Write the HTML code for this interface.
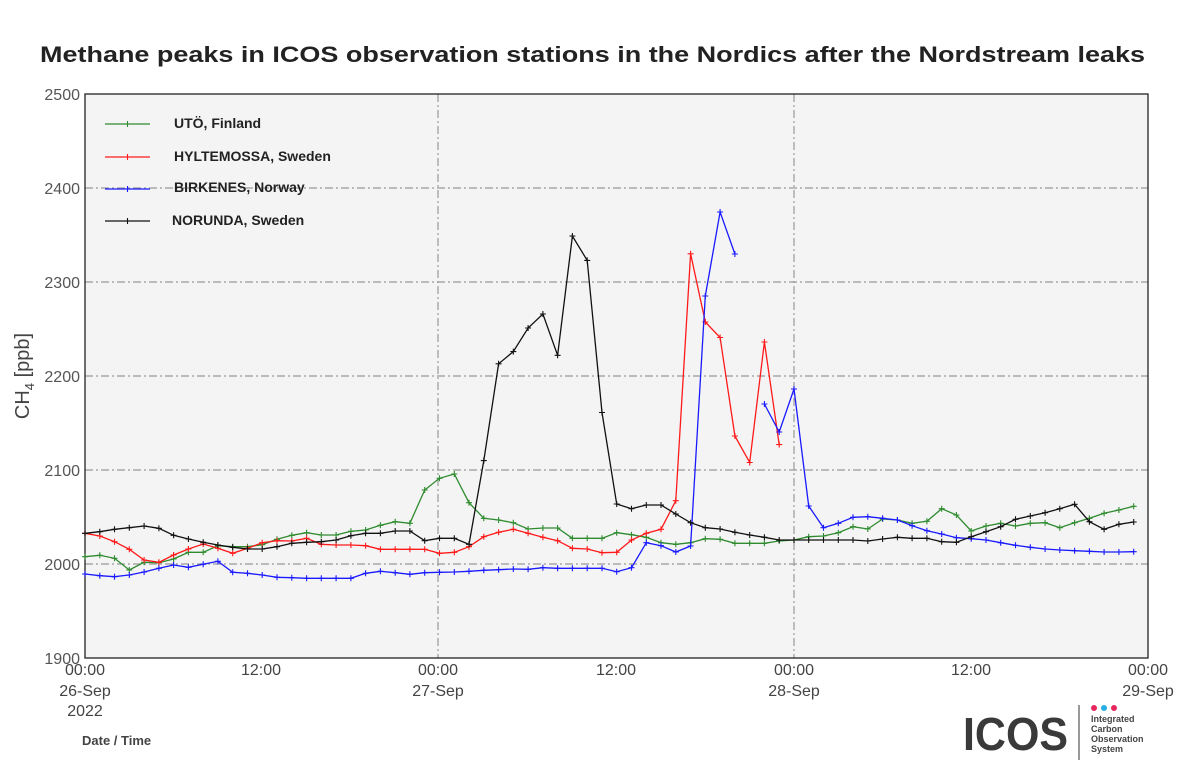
<!DOCTYPE html>
<html><head><meta charset="utf-8"><style>
body{margin:0;background:#fff;}
svg{display:block;font-family:"Liberation Sans",sans-serif;}
</style></head><body>
<svg width="1200" height="776" viewBox="0 0 1200 776" xmlns="http://www.w3.org/2000/svg">
<defs>
<marker id="mg" viewBox="-4 -4 8 8" markerWidth="8" markerHeight="8" markerUnits="userSpaceOnUse"><path d="M-3 0H3M0 -3V3" stroke="#2e8b2e" stroke-width="1.1"/></marker>
<marker id="mr" viewBox="-4 -4 8 8" markerWidth="8" markerHeight="8" markerUnits="userSpaceOnUse"><path d="M-3 0H3M0 -3V3" stroke="#ff1a1a" stroke-width="1.1"/></marker>
<marker id="mb" viewBox="-4 -4 8 8" markerWidth="8" markerHeight="8" markerUnits="userSpaceOnUse"><path d="M-3 0H3M0 -3V3" stroke="#1a1aff" stroke-width="1.1"/></marker>
<marker id="mk2" viewBox="-4 -4 8 8" markerWidth="8" markerHeight="8" markerUnits="userSpaceOnUse"><path d="M-3 0H3M0 -3V3" stroke="#111" stroke-width="1.1"/></marker>
</defs>
<text x="40" y="62" textLength="1105" lengthAdjust="spacingAndGlyphs" font-size="22" font-weight="bold" fill="#222">Methane peaks in ICOS observation stations in the Nordics after the Nordstream leaks</text>
<rect x="85" y="94" width="1063" height="564" fill="#f4f4f4"/>
<g stroke="#999" stroke-width="1.2" stroke-dasharray="8,3,2,3" fill="none">
<path d="M85 188H1148M85 282H1148M85 376H1148M85 470H1148M85 564H1148M438 94V658M794 94V658"/>
</g>
<rect x="85" y="94" width="1063" height="564" fill="none" stroke="#222" stroke-width="1.3"/>
<g font-size="16" fill="#555" text-anchor="end">
<text x="80" y="100">2500</text><text x="80" y="194">2400</text><text x="80" y="288">2300</text><text x="80" y="382">2200</text><text x="80" y="476">2100</text><text x="80" y="570">2000</text><text x="80" y="664">1900</text>
</g>
<g font-size="16" fill="#444" text-anchor="middle">
<text x="85" y="675">00:00</text><text x="85" y="696">26-Sep</text><text x="85" y="716">2022</text>
<text x="261" y="675">12:00</text>
<text x="438" y="675">00:00</text><text x="438" y="696">27-Sep</text>
<text x="616" y="675">12:00</text>
<text x="794" y="675">00:00</text><text x="794" y="696">28-Sep</text>
<text x="971" y="675">12:00</text>
<text x="1148" y="675">00:00</text><text x="1148" y="696">29-Sep</text>
</g>
<text transform="translate(29,376) rotate(-90)" text-anchor="middle" font-size="20" fill="#444">CH<tspan font-size="13" dy="5">4</tspan><tspan dy="-5"> [ppb]</tspan></text>
<g fill="none" stroke-width="1.3">
<polyline stroke="#2e8b2e" marker-start="url(#mg)" marker-mid="url(#mg)" marker-end="url(#mg)" points="85,556.7 99.8,555.3 114.5,558.3 129.3,570 144.1,562.3 158.9,562.7 173.6,559 188.4,552.3 203.2,552.3 217.9,545.7 232.7,546.7 247.5,546.7 262.2,544.7 277,539.3 291.8,535.3 306.6,532.7 321.3,535 336.1,535 350.9,531.3 365.6,530 380.4,525.3 395.2,521.7 409.9,523.3 424.7,490 439.5,478.3 454.3,474 469,502.7 483.8,518.3 498.6,520 513.3,522.7 528.1,529 542.9,528 557.6,528 572.4,538.3 587.2,538.3 602,538.3 616.7,532.7 631.5,534.7 646.3,537.3 661,542.7 675.8,544.3 690.6,542.7 705.3,538.7 720.1,539.3 734.9,543.3 749.7,543.3 764.4,543.3 779.2,541 794,540 808.7,536.7 823.5,536 838.3,532.7 853,526.7 867.8,529 882.6,519 897.4,520 912.1,523.3 926.9,521.3 941.7,508.7 956.4,515 971.2,531 986,526 1000.7,523.3 1015.5,526 1030.3,523.3 1045.1,522.7 1059.8,527.7 1074.6,522.7 1089.4,518.3 1104.1,513.3 1118.9,510 1133.7,506.3"/>
<polyline stroke="#ff1a1a" marker-start="url(#mr)" marker-mid="url(#mr)" marker-end="url(#mr)" points="85,533.3 99.8,536 114.5,541.7 129.3,549.3 144.1,560 158.9,562.3 173.6,555 188.4,549 203.2,544 217.9,548.3 232.7,553.3 247.5,548.3 262.2,542.7 277,540.7 291.8,541 306.6,538.3 321.3,544.3 336.1,545 350.9,545 365.6,545.7 380.4,549.3 395.2,549.3 409.9,549.3 424.7,549.3 439.5,553.3 454.3,552.3 469,546.7 483.8,536.7 498.6,532.3 513.3,529.3 528.1,533.3 542.9,537.3 557.6,540.7 572.4,548.3 587.2,549 602,552.7 616.7,552.3 631.5,540 646.3,533.3 661,529.3 675.8,500.7 690.6,253.8 705.3,322 720.1,337.5 734.9,436 749.7,462.5 764.4,342 779.2,444.6"/>
<polyline stroke="#1a1aff" marker-start="url(#mb)" marker-mid="url(#mb)" marker-end="url(#mb)" points="85,574 99.8,575.7 114.5,576.7 129.3,575 144.1,572 158.9,568.3 173.6,565 188.4,567.3 203.2,564.3 217.9,561.3 232.7,572.3 247.5,573.3 262.2,575 277,577.3 291.8,577.7 306.6,578.3 321.3,578.3 336.1,578.3 350.9,578.3 365.6,573.3 380.4,571.3 395.2,572.7 409.9,574.3 424.7,572.7 439.5,572.3 454.3,572 469,571.3 483.8,570.3 498.6,569.7 513.3,569 528.1,569.3 542.9,567.7 557.6,568.3 572.4,568.3 587.2,568.3 602,568.3 616.7,571.7 631.5,567.7 646.3,542.7 661,545.7 675.8,552 690.6,546 705.3,296 720.1,212 734.9,254"/>
<polyline stroke="#1a1aff" marker-start="url(#mb)" marker-mid="url(#mb)" marker-end="url(#mb)" points="764.4,404 779.2,432 794,389 808.7,506 823.5,527.7 838.3,523.3 853,517.3 867.8,516.7 882.6,518.3 897.4,520 912.1,525.7 926.9,530.7 941.7,534 956.4,537.7 971.2,538.7 986,540 1000.7,542.7 1015.5,545.3 1030.3,547.3 1045.1,549 1059.8,550 1074.6,550.7 1089.4,551.3 1104.1,552 1118.9,552 1133.7,551.7"/>
<polyline stroke="#111" marker-start="url(#mk2)" marker-mid="url(#mk2)" marker-end="url(#mk2)" points="85,533.3 99.8,531.7 114.5,529.3 129.3,527.7 144.1,526 158.9,528.3 173.6,535.3 188.4,539 203.2,542.3 217.9,545 232.7,547.3 247.5,549 262.2,549 277,546.7 291.8,543.3 306.6,542.3 321.3,541.7 336.1,540 350.9,535.7 365.6,533.3 380.4,533.3 395.2,531 409.9,531 424.7,540.7 439.5,538.3 454.3,538.3 469,544.3 483.8,460.6 498.6,363.8 513.3,351.6 528.1,328 542.9,314 557.6,355.3 572.4,236 587.2,260.4 602,412.5 616.7,504 631.5,508.7 646.3,505 661,505 675.8,514 690.6,522.7 705.3,527.7 720.1,529 734.9,532.3 749.7,535 764.4,537.3 779.2,540 794,540 808.7,540 823.5,540 838.3,540 853,540 867.8,541 882.6,539 897.4,537.3 912.1,538.3 926.9,538.3 941.7,541.7 956.4,542.3 971.2,536.7 986,531.7 1000.7,526.7 1015.5,519.3 1030.3,516 1045.1,512.7 1059.8,508.7 1074.6,504.3 1089.4,521.7 1104.1,529.3 1118.9,524.3 1133.7,522"/>
</g>
<g stroke-width="1.3" fill="none">
<path d="M105 124H127.5H150" stroke="#2e8b2e" marker-mid="url(#mg)"/>
<path d="M105 157H127.5H150" stroke="#ff1a1a" marker-mid="url(#mr)"/>
<path d="M105 189H127.5H150" stroke="#1a1aff" marker-mid="url(#mb)"/>
<path d="M105 221H127.5H150" stroke="#111" marker-mid="url(#mk2)"/>
</g>
<g font-size="14" font-weight="bold" fill="#222">
<text x="174" y="128">UTÖ, Finland</text>
<text x="174" y="161">HYLTEMOSSA, Sweden</text>
<text x="174" y="192">BIRKENES, Norway</text>
<text x="172" y="225">NORUNDA, Sweden</text>
</g>
<text x="82" y="745" font-size="13" font-weight="bold" fill="#444">Date / Time</text>
<text x="963" y="750" textLength="105" lengthAdjust="spacingAndGlyphs" font-size="46" font-weight="bold" fill="#3a3a3a">ICOS</text>
<line x1="1079" y1="705" x2="1079" y2="760" stroke="#555" stroke-width="1.2"/>
<circle cx="1094" cy="708" r="3" fill="#e8265e"/>
<circle cx="1104" cy="708" r="3" fill="#27aee2"/>
<circle cx="1114" cy="708" r="3" fill="#e8265e"/>
<g font-size="9" font-weight="bold" fill="#444">
<text x="1091" y="722">Integrated</text><text x="1091" y="732">Carbon</text><text x="1091" y="742">Observation</text><text x="1091" y="752">System</text>
</g>
</svg>
</body></html>
